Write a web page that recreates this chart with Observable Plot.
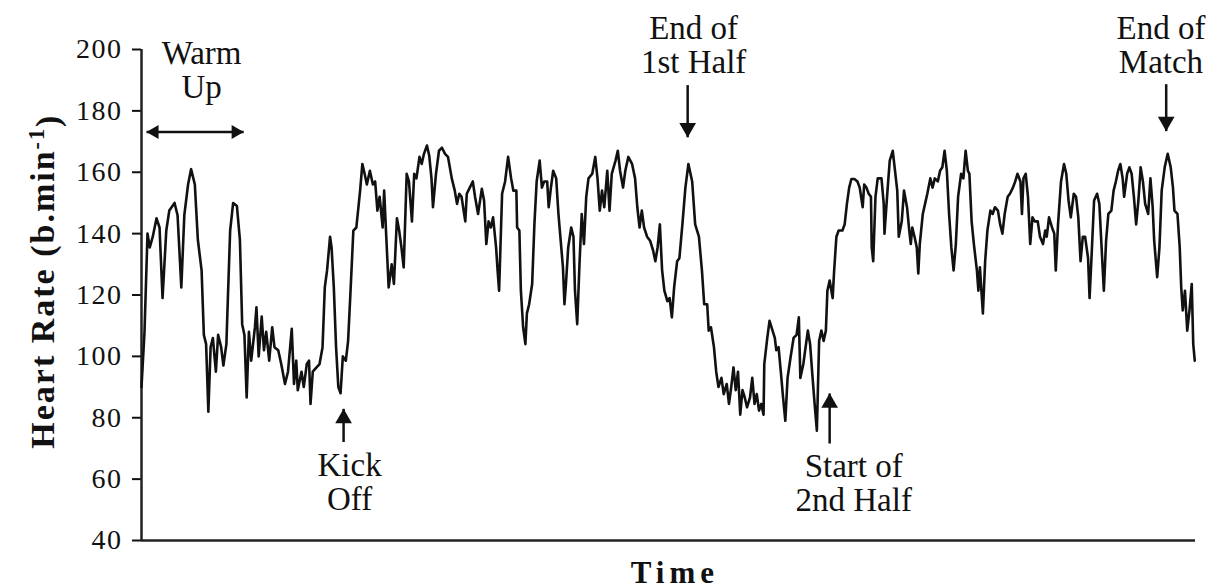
<!DOCTYPE html>
<html>
<head>
<meta charset="utf-8">
<script src="https://cdn.jsdelivr.net/npm/d3@7"></script>
<script src="https://cdn.jsdelivr.net/npm/@observablehq/plot@0.6"></script>
<style>
  html, body { margin: 0; padding: 0; background: #fff; }
  #chart svg { display: block; }
</style>
</head>
<body>
<div id="chart"></div>
<script>
// Heart rate trace of one player: time (min from start of recording) and heart rate (b.min-1)
const time = [
  0.0, 0.4, 0.8, 1.1, 1.5, 2.0, 2.4, 2.8, 3.3, 3.7, 4.4, 4.8, 5.3, 5.7, 6.2, 6.6, 7.1, 7.5, 8.0, 8.3,
  8.6, 8.9, 9.2, 9.5, 9.9, 10.2, 10.6, 10.9, 11.3, 11.5, 11.8, 12.2, 12.7, 13.1, 13.4, 13.7, 14.0, 14.3, 14.6, 15.1,
  15.3, 15.6, 16.0, 16.3, 16.6, 17.0, 17.4, 17.7, 18.2, 18.6, 19.1, 19.5, 20.0, 20.3, 20.6, 20.8, 21.3, 21.6, 22.0, 22.3,
  22.5, 22.8, 23.3, 23.7, 24.1, 24.4, 24.7, 25.1, 25.3, 25.6, 25.9, 26.2, 26.5, 26.8, 27.2, 27.5, 27.8, 28.2, 28.6, 29.1,
  29.4, 29.7, 30.0, 30.4, 30.8, 31.1, 31.4, 31.7, 32.1, 32.3, 32.6, 32.9, 33.3, 33.6, 34.0, 34.3, 34.6, 34.9, 35.3,
  35.6, 36.0, 36.3, 36.6, 37.0, 37.3, 37.6, 38.0, 38.3, 38.6, 38.8, 39.2, 39.6, 40.0, 40.4, 40.8, 41.3, 41.7, 42.0, 42.3,
  42.6, 43.1, 43.3, 43.7, 44.1, 44.4, 44.8, 45.3, 45.6, 45.9, 46.2, 46.5, 46.8, 47.2, 47.4, 47.6, 48.0, 48.4, 48.8, 49.2,
  49.5, 49.9, 50.0, 50.3, 50.5, 50.8, 51.1, 51.3, 51.6, 52.0, 52.3, 52.6, 53.0, 53.3, 53.6, 54.0, 54.2, 54.5, 54.8, 55.2,
  55.5, 55.8, 56.1, 56.3, 56.5, 56.8, 57.2, 57.5, 57.7, 58.0, 58.3, 58.6, 58.9, 59.2, 59.5, 60.0, 60.4, 60.7, 61.0, 61.3,
  61.6, 62.0, 62.3, 62.6, 63.1, 63.4, 63.7, 64.1, 64.4, 64.8, 65.3, 65.7, 66.0, 66.3, 66.6, 66.9, 67.3, 67.7, 68.1, 68.4,
  68.7, 69.0, 69.3, 69.6, 70.0, 70.3, 70.6, 70.9, 71.3, 71.6, 72.0, 72.4, 72.8, 73.3, 73.7, 74.2,
  74.6, 74.9, 75.3, 75.5, 75.8, 76.2, 76.5, 76.8, 77.2, 77.5, 77.9, 78.2, 78.5, 78.8, 79.1, 79.4, 79.7, 80.0, 80.3, 80.6,
  81.0, 81.3, 81.6, 81.9, 82.2, 82.5, 82.8, 82.9, 83.3, 83.6, 84.0, 84.3, 84.5, 84.8, 85.1, 85.4, 85.7, 86.0, 86.4, 86.8,
  87.2, 87.5, 87.7, 88.1, 88.4, 88.7, 89.0, 89.3, 89.6, 89.9, 90.2, 90.5, 90.8, 91.1, 91.3, 91.6, 92.0, 92.2, 92.5, 92.8,
  93.3, 93.6, 93.9, 94.2, 94.5, 94.9, 95.3, 95.6, 96.0, 96.2, 96.5, 96.8, 97.1, 97.2, 97.4, 97.7, 98.0, 98.5, 98.8, 98.9,
  99.3, 99.6, 100.0, 100.3, 100.6, 100.8, 101.2, 101.5, 101.9, 102.2, 102.4, 102.6, 102.9, 103.2, 103.4, 103.6, 104.0, 104.3, 104.6, 105.0,
  105.3, 105.6, 106.0, 106.3, 106.6, 106.9, 107.2, 107.5, 107.8, 108.1, 108.4, 108.7, 109.1, 109.4, 109.7, 110.0,
  110.2, 110.5, 110.8, 111.2, 111.4, 111.6, 112.0, 112.3, 112.6, 113.0, 113.3, 113.6, 114.0, 114.3, 114.6, 114.9, 115.3, 115.6, 116.0, 116.3,
  116.6, 117.0, 117.2, 117.4, 117.7, 118.0, 118.3, 118.6, 118.9, 119.3, 119.6, 120.0, 120.3, 120.5, 120.8, 121.2, 121.5, 121.7, 122.0, 122.4,
  122.8, 123.1, 123.4, 123.7, 124.1, 124.4, 124.7, 125.0, 125.3, 125.6, 126.0, 126.2, 126.5, 126.8, 127.2, 127.5, 127.8, 128.1, 128.4, 128.7,
  129.1, 129.4, 129.7, 130.0, 130.3, 130.6, 130.8, 131.2, 131.5, 131.8, 132.1, 132.4, 132.7, 133.0, 133.3, 133.6, 134.0, 134.3, 134.6, 134.8,
  135.2, 135.5, 135.8, 136.2, 136.6, 137.0, 137.3, 137.5, 137.9, 138.2, 138.4, 138.6, 138.9, 139.2, 139.5, 139.8, 140.0, 140.2
];
const heartRate = [
  90, 108, 140, 135.5, 139, 145, 142, 119, 141, 147.5, 150, 146, 122.5, 146, 156, 161, 156, 138, 128, 107,
  104, 82, 103, 106, 95, 107, 103, 97, 104, 119, 141, 150, 149, 138, 110.5, 107, 86.6, 108, 98.6, 109.5,
  116, 100, 113, 102, 108, 98.6, 109.5, 103, 102, 97.5, 91, 95, 109, 91, 98.6, 89, 95, 90, 97.5, 98.6,
  84.5, 95, 96.4, 97.5, 103, 122.5, 128, 139, 135.5, 122.5, 103, 90, 88, 100, 98.6, 105, 120, 141, 142, 154,
  162.7, 159.5, 156, 160.5, 156, 157, 147.5, 152, 142, 154, 138, 122.5, 130, 123.6, 145, 141, 135.5, 129, 159.5,
  157, 144, 159.5, 158, 165, 162.7, 166, 168.7, 165.4, 158, 148.6, 159.5, 167, 168, 166, 165, 158, 154, 149.7, 153,
  152, 144, 153, 155, 157, 152, 146.4, 154.6, 150.8, 136.6, 144, 142, 145.3, 135.5, 128, 121.4, 153, 157, 165, 158,
  154, 154, 142, 141, 121.4, 109.5, 104, 114, 117, 123.6, 143, 157, 163.8, 155, 157, 157, 148.6, 155, 160.5, 158,
  146.4, 137.7, 129, 117, 123.6, 135.5, 142, 139, 121.4, 110.5, 130, 146.4, 136.6, 152, 158, 159.5, 165, 158, 147.5, 154,
  148.6, 160.5, 147.5, 159.5, 163.8, 167, 160.5, 155, 160.5, 165, 162.7, 158, 148.6, 142, 147.5, 142, 139, 137.7, 134.5, 131,
  135.5, 143, 128, 121.4, 118, 119, 112.7, 122.5, 131, 132, 143, 155, 162.7, 157, 143, 139,
  128, 117, 117, 108.4, 109.5, 103, 95, 90, 93, 87.7, 91, 84.5, 90, 96.4, 89, 95, 81, 89, 86.6, 83.4,
  86.6, 93, 84.5, 87.7, 82.3, 84.5, 81, 97.5, 106, 111.6, 108.4, 106, 102, 103, 95, 86.6, 79, 93, 99.7, 106,
  107, 112.7, 93, 97.5, 103, 108.4, 104, 94, 84.5, 75.8, 105, 108.4, 105, 108.4, 121.4, 124.7, 119, 128, 139, 141,
  141, 143, 149.7, 155, 157.8, 157.8, 157, 155, 148.6, 156, 155, 153, 152, 135.5, 131, 152, 158, 158, 149.7, 140,
  154, 163.8, 167, 160.5, 154, 139, 144, 154, 148.6, 141, 136.6, 142, 139, 135.5, 127, 136.6, 146.4, 149.7, 153, 158,
  155, 158, 157, 160.5, 161.6, 167, 160.5, 146.4, 135.5, 128, 136.6, 152, 159.5, 158, 167, 160.5,
  159.5, 144, 136.6, 128, 121.4, 129, 114, 131, 141, 147.5, 146.4, 148.6, 147.5, 143, 140, 146.4, 152, 153, 155, 157,
  159.5, 157, 146.4, 158, 159.5, 152, 136.6, 145.3, 144, 144, 139, 136.6, 141, 139, 145.3, 142, 140, 128, 143, 157,
  162.7, 159.5, 150.8, 145.3, 153, 152, 145.3, 131, 139, 139, 132, 119, 134.5, 150.8, 153, 149.7, 135.5, 121.4, 137.7, 146.4,
  147.5, 154, 157, 160.5, 162.7, 158, 152, 159.5, 161.6, 159.5, 152, 143, 150.8, 161.6, 157, 149.7, 146.4, 158, 148.6, 137.7,
  125.8, 135.5, 154, 161.6, 166, 161.6, 155, 147.5, 146.4, 135.5, 122.5, 115, 121.4, 108.4, 115, 123.6, 104, 98.6
];

// Axis ticks
const yTicks = [40, 60, 80, 100, 120, 140, 160, 180, 200];

// Event annotations (centre time, bpm at last text baseline)
const noteText = ["Warm\nUp", "Kick\nOff", "End of\n1st Half", "Start of\n2nd Half", "End of\nMatch"];
const noteTime = [8.0, 27.7, 73.5, 94.8, 135.7];
const noteRate = [184.1, 49.8, 192.3, 49.6, 192.3];

// Event arrows: time, shaft start and tip (bpm)
const arrowTime = [26.9, 72.7, 91.6, 136.4];
const arrowFrom = [72.1, 188.4, 71.6, 188.7];
const arrowTo = [82.9, 171.4, 87.9, 173.4];

// Warm-up span (double-headed arrow)
const warmUpStart = 0.67;
const warmUpEnd = 13.6;
const warmUpRate = 173.1;

const axisTitleY = "Heart Rate (b.min-1)";
const axisTitleX = "Time";

const hr = time.map((t, i) => ({t, bpm: heartRate[i]}));
const notes = noteText.map((text, i) => ({text, t: noteTime[i], bpm: noteRate[i]}));
const arrows = arrowTime.map((t, i) => ({t, from: arrowFrom[i], to: arrowTo[i], up: arrowTo[i] > arrowFrom[i]}));
const span = [{x1: warmUpStart, x2: warmUpEnd, y: warmUpRate}];

const ink = "#111";
const serif = "'Liberation Serif', 'Times New Roman', serif";

const chart = Plot.plot({
  width: 1217,
  height: 588,
  marginLeft: 141,
  marginRight: 22,
  marginTop: 49,
  marginBottom: 48,
  style: {fontFamily: serif, background: "#fff", color: ink},
  x: {domain: [0, 140.3], axis: null},
  y: {domain: [40, 200], axis: null},
  marks: [
    Plot.axisY({ticks: yTicks, tickSize: 9, tickPadding: 10, fontSize: 28, strokeWidth: 2, color: ink, label: null}),
    Plot.ruleX([0], {y1: 40, y2: 200, stroke: "#222", strokeWidth: 2.5}),
    Plot.ruleY([40], {stroke: "#222", strokeWidth: 2.5}),
    Plot.line(hr, {x: "t", y: "bpm", stroke: ink, strokeWidth: 2.6, strokeLinejoin: "round"}),

    // annotations
    Plot.text(notes, {x: "t", y: "bpm", text: "text", fontSize: 33, lineAnchor: "bottom", lineHeight: 1.04, fill: ink}),
    Plot.link(arrows, {x1: "t", x2: "t", y1: "from", y2: "to", stroke: ink, strokeWidth: 2.5}),
    Plot.dot(arrows.filter(d => d.up), {x: "t", y: "to", symbol: "triangle", r: 6.2, fill: ink, stroke: null, dy: 9.5}),
    Plot.dot(arrows.filter(d => !d.up), {x: "t", y: "to", symbol: "triangle", r: 6.2, fill: ink, stroke: null, rotate: 180, dy: -9.5}),
    Plot.link(span, {x1: "x1", x2: "x2", y1: "y", y2: "y", stroke: ink, strokeWidth: 2.5}),
    Plot.dot(span, {x: "x1", y: "y", symbol: "triangle", r: 5.2, fill: ink, stroke: null, rotate: -90, dx: 8}),
    Plot.dot(span, {x: "x2", y: "y", symbol: "triangle", r: 5.2, fill: ink, stroke: null, rotate: 90, dx: -8}),

    // axis titles
    Plot.text([axisTitleY], {text: d => d, frameAnchor: "left", y: () => 124.5, dx: -88, rotate: -90,
      textAnchor: "middle", fontSize: 34, fontWeight: "bold", lineAnchor: "bottom", fill: ink}),
    Plot.text([axisTitleX], {text: d => d, x: () => 71.0, frameAnchor: "bottom", dy: 42,
      textAnchor: "middle", fontSize: 31, fontWeight: "bold", lineAnchor: "bottom", fill: ink})
  ]
});

// typographic touches: spaced lettering and a raised "-1" exponent
const svg = d3.select(chart);
svg.selectAll('g[aria-label="y-axis tick label"] text').attr("letter-spacing", "1.5px");
svg.selectAll("text").each(function () {
  const el = d3.select(this);
  const s = el.text();
  if (s === axisTitleX) {
    el.attr("letter-spacing", "5px");
  } else if (s === axisTitleY) {
    el.attr("letter-spacing", "2px").text(null);
    el.append("tspan").text("Heart Rate (b.min");
    el.append("tspan").attr("dy", "-0.45em").attr("font-size", "0.65em").text("-1");
    el.append("tspan").attr("dy", "0.45em").text(")");
  }
});

document.getElementById("chart").append(chart);
</script>
</body>
</html>
